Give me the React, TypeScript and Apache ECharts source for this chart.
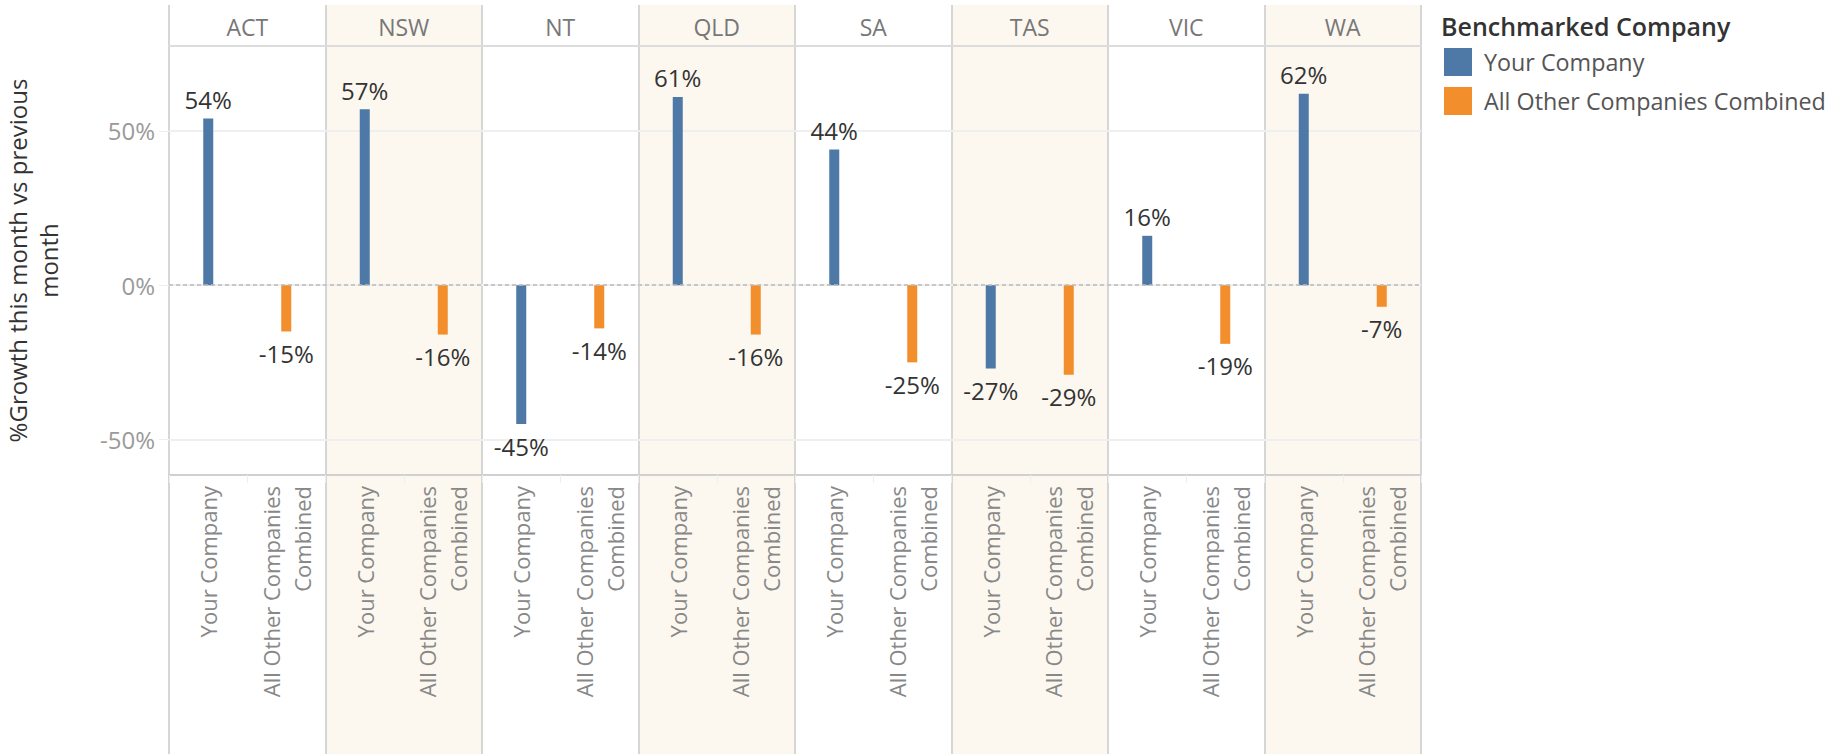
import React, { useEffect, useRef } from 'react';
import * as echarts from 'echarts';

const states = ['ACT', 'NSW', 'NT', 'QLD', 'SA', 'TAS', 'VIC', 'WA'];
const companyLabels = ['Your Company', 'All Other Companies\nCombined'];
const seriesNames = ['Your Company', 'All Other Companies Combined'];
const yourCompany = [54, 57, -45, 61, 44, -27, 16, 62];
const otherCompanies = [-15, -16, -14, -16, -25, -29, -19, -7];
const yTicks = [-50, 0, 50];
const colors = ['#4e79a7', '#f28e2b'];

const FONT = 'Open Sans';

function toItems(values: number[]) {
  return values.map((v) => ({
    value: v,
    label: { position: v >= 0 ? 'top' : 'bottom', distance: v >= 0 ? 7 : 10 },
  }));
}

export default function App() {
  const ref = useRef<HTMLDivElement>(null);
  useEffect(() => {
    if (!ref.current) return;
    const chart = echarts.init(ref.current, null, { renderer: 'svg' });
    const bottomCats = states.flatMap(() => companyLabels);
    const labelStyle = {
      show: true,
      fontFamily: FONT,
      fontSize: 24,
      color: '#333',
      formatter: (p: any) => Math.round(p.value) + '%',
    };
    chart.setOption({
      animation: false,
      backgroundColor: '#ffffff',
      textStyle: { fontFamily: FONT },
      title: {
        text: 'Benchmarked Company',
        left: 1441,
        top: 13,
        padding: 0,
        textStyle: { fontFamily: FONT, fontSize: 25, fontWeight: 600, color: '#333' },
      },
      legend: {
        orient: 'vertical',
        left: 1444,
        top: 48,
        padding: 0,
        itemWidth: 28,
        itemHeight: 28,
        itemGap: 11,
        icon: 'rect',
        data: seriesNames,
        textStyle: { fontFamily: FONT, fontSize: 23.3, color: '#555', padding: [0, 0, 0, 7] },
      },
      grid: [
        { left: 169, right: 409, top: 5, bottom: 0, containLabel: false, outerBoundsMode: 'none' },
        { left: 169, right: 409, top: 46, height: 429, containLabel: false, outerBoundsMode: 'none' },
      ],
      xAxis: [
        {
          type: 'category',
          gridIndex: 0,
          data: states,
          z: 0,
          axisLine: { show: false },
          axisTick: { show: false },
          axisLabel: { show: false },
          splitLine: { show: true, interval: 0, lineStyle: { color: '#d6d6d6', width: 2 } },
          splitArea: { show: true, interval: 0, areaStyle: { color: ['rgba(255,255,255,0)', '#fcf8f0'] } },
        },
        {
          type: 'category',
          gridIndex: 1,
          position: 'top',
          data: states,
          z: 1,
          axisLine: { show: true, onZero: false, lineStyle: { color: '#dcdcdc', width: 2 } },
          axisTick: { show: false },
          axisLabel: {
            interval: 0,
            margin: 19,
            verticalAlign: 'middle',
            fontFamily: FONT,
            fontSize: 23,
            color: '#777',
          },
        },
        {
          type: 'category',
          gridIndex: 1,
          position: 'bottom',
          data: bottomCats,
          z: 1,
          axisLine: { show: true, onZero: false, lineStyle: { color: '#d0d0d0', width: 2 } },
          axisTick: { show: true, interval: 0, length: 8, lineStyle: { color: '#eeeeee' } },
          axisLabel: {
            interval: 0,
            rotate: 90,
            margin: 11,
            fontFamily: FONT,
            fontSize: 22,
            lineHeight: 31,
            color: '#888',
          },
        },
      ],
      yAxis: [
        { type: 'value', gridIndex: 0, show: false, min: 0, max: 1 },
        {
          type: 'value',
          gridIndex: 1,
          min: -61.5,
          max: 77.5,
          splitNumber: 3,
          z: 1,
          name: '%Growth this month vs previous\nmonth',
          nameLocation: 'middle',
          nameGap: 105,
          nameTextStyle: { fontFamily: FONT, fontSize: 24, lineHeight: 31, color: '#333' },
          axisLine: { show: false },
          axisTick: { show: true, length: 10, lineStyle: { color: '#eeeeee' } },
          axisLabel: {
            margin: 14,
            fontFamily: FONT,
            fontSize: 24,
            color: '#9a9a9a',
            showMinLabel: false,
            showMaxLabel: false,
            formatter: (v: number) => (yTicks.includes(Math.round(v * 1000) / 1000) ? v + '%' : ''),
          },
          splitLine: { show: true, lineStyle: { color: '#efefef', width: 2 } },
        },
      ],
      series: [
        {
          name: seriesNames[0],
          type: 'bar',
          xAxisIndex: 1,
          yAxisIndex: 1,
          barWidth: 10,
          barGap: '680%',
          itemStyle: { color: colors[0] },
          label: labelStyle,
          data: toItems(yourCompany),
          markLine: {
            silent: true,
            symbol: ['none', 'none'],
            label: { show: false },
            lineStyle: { type: [4, 3], color: '#bbbbbb', width: 1.5 },
            data: [{ yAxis: 0 }],
          },
        },
        {
          name: seriesNames[1],
          type: 'bar',
          xAxisIndex: 1,
          yAxisIndex: 1,
          barWidth: 10,
          barGap: '680%',
          itemStyle: { color: colors[1] },
          label: labelStyle,
          data: toItems(otherCompanies),
        },
      ],
    });
    return () => chart.dispose();
  }, []);
  return (
    <div
      ref={ref}
      style={{ position: 'absolute', left: 0, top: 0, width: 1830, height: 754 }}
    />
  );
}
